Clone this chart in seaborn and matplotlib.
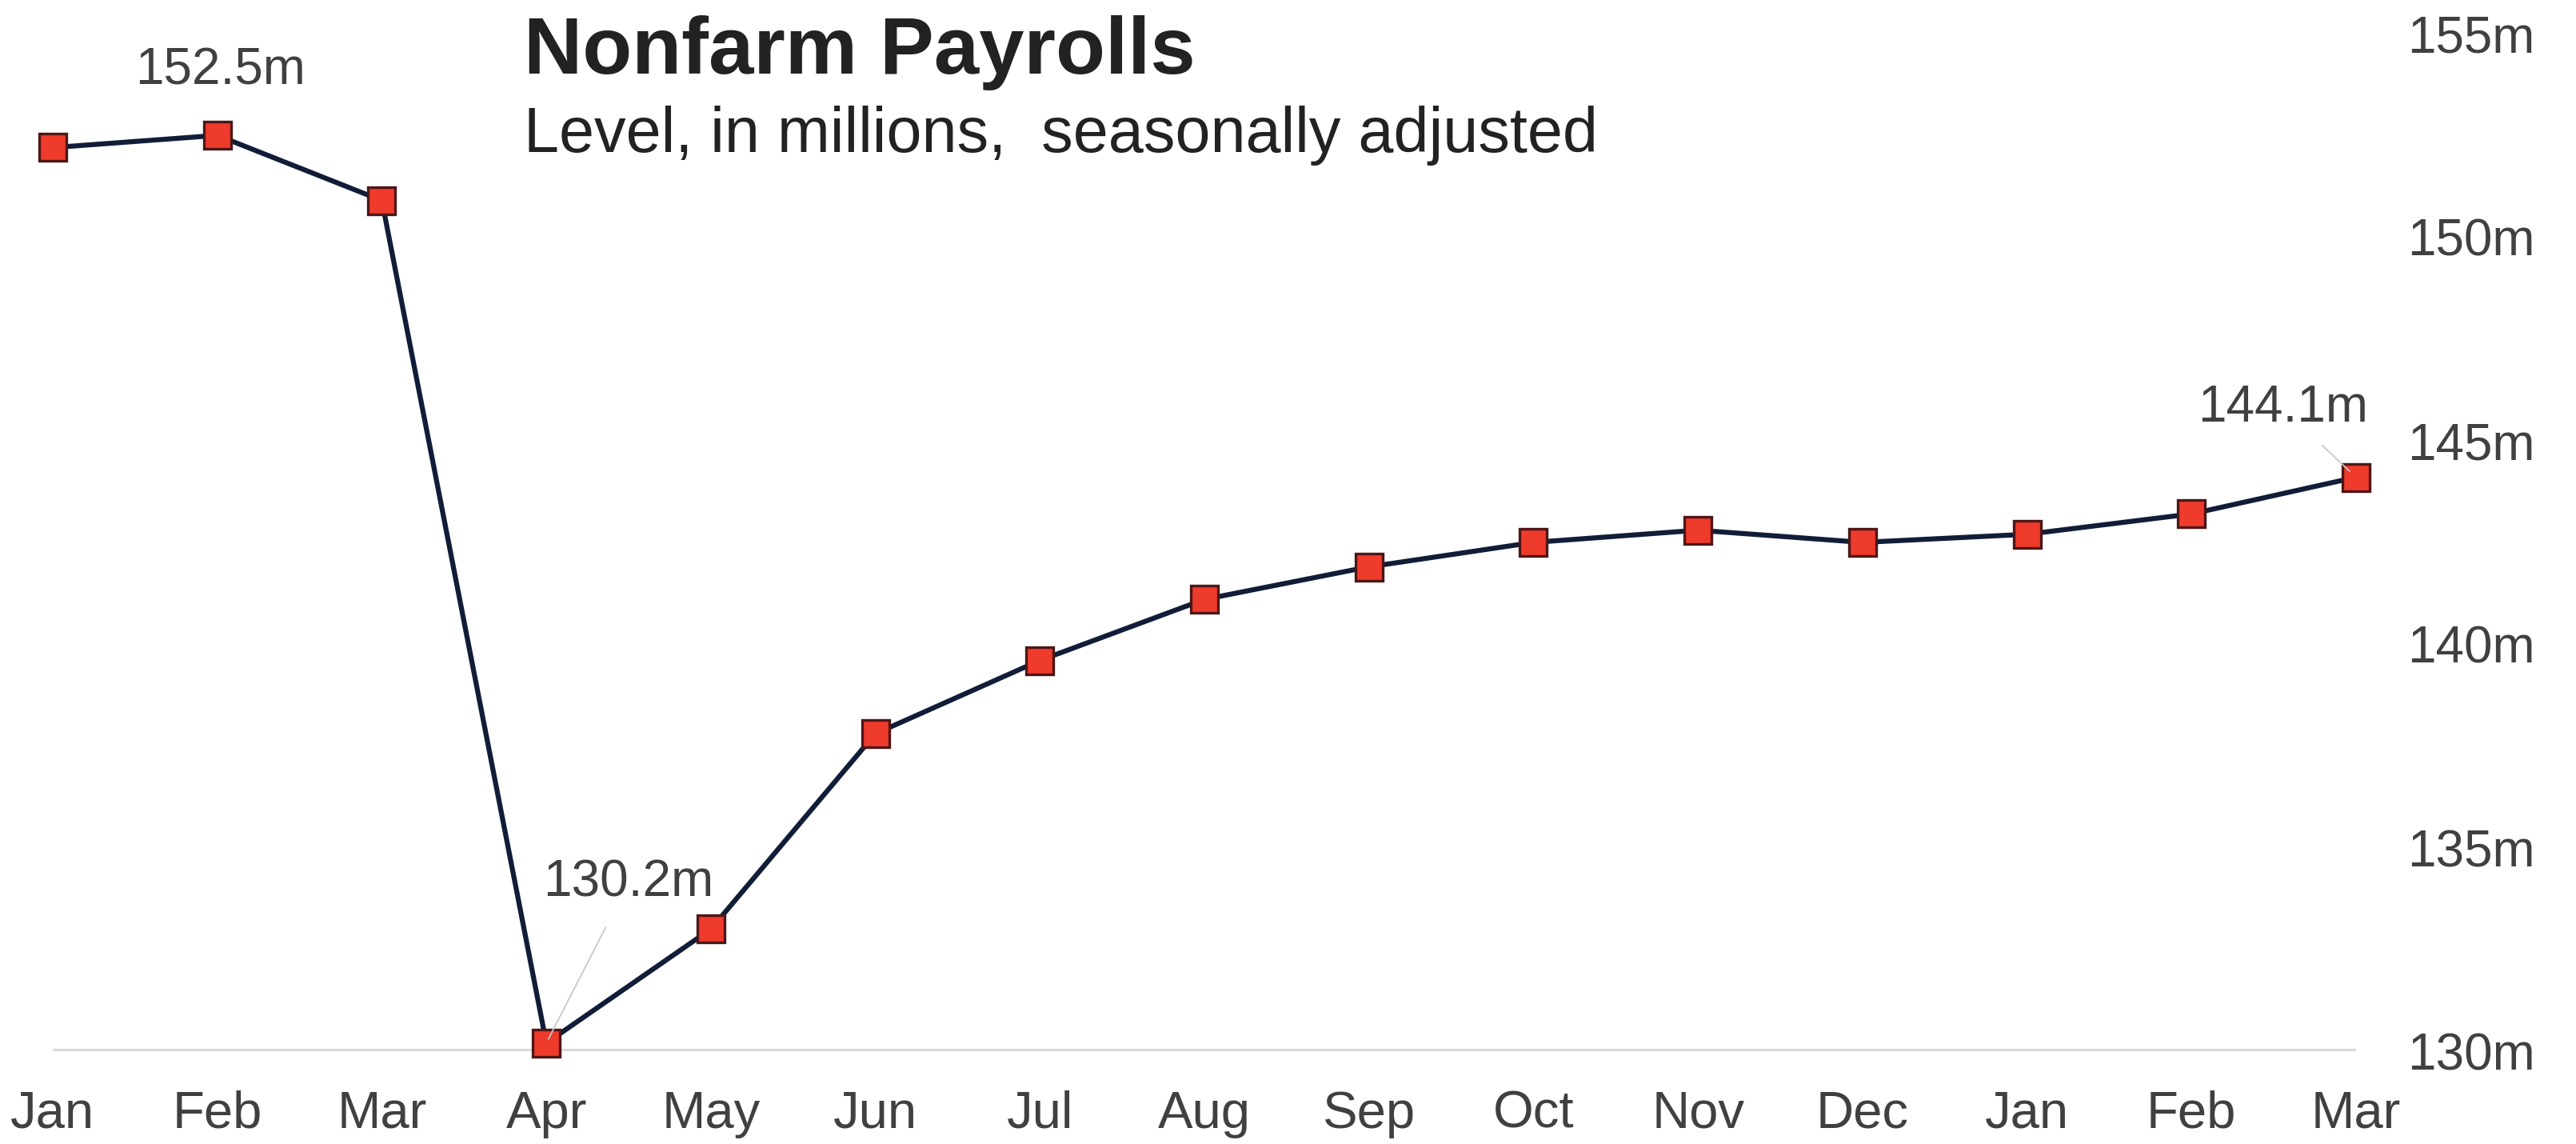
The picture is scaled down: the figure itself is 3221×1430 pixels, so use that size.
import matplotlib
matplotlib.use("Agg")
import matplotlib.pyplot as plt
import seaborn as sns
import pandas as pd

# --- data ---
months = ["Jan", "Feb", "Mar", "Apr", "May", "Jun", "Jul", "Aug",
          "Sep", "Oct", "Nov", "Dec", "Jan", "Feb", "Mar"]
payrolls = [152.2, 152.5, 150.9, 130.2, 133.0, 137.8, 139.6, 141.1,
            141.9, 142.5, 142.8, 142.5, 142.7, 143.2, 144.1]
y_ticks = [130, 135, 140, 145, 150, 155]

# points that get a value label
callouts = [1, 3, 14]

df = pd.DataFrame({"pos": range(len(months)), "level": payrolls})

sns.set_theme(style="white")
plt.rcParams["font.family"] = ["Liberation Sans", "DejaVu Sans"]

fig = plt.figure(figsize=(32.21, 14.30), dpi=100)
ax = fig.add_axes([66 / 3221, 1 - 1314 / 1430, 2880 / 3221, 1272 / 1430])

# baseline at 130m
ax.axhline(130, color="#d9d9d9", lw=4.5, zorder=1)

sns.lineplot(data=df, x="pos", y="level", ax=ax, color="#111d38", lw=4.5,
             marker="s", markersize=25, markerfacecolor="#ee3b2c",
             markeredgecolor="#4e1616", markeredgewidth=2.4, zorder=3,
             clip_on=False)

# value labels with thin grey leader lines
txt_kw = dict(fontsize=46, color="#404040", ha="center", va="baseline")
i = callouts[0]
ax.annotate(f"{payrolls[i]}m", (i, payrolls[i]), xytext=(3, 46),
            textcoords="offset points", **txt_kw)
i = callouts[1]
ax.annotate(f"{payrolls[i]}m", (i, payrolls[i]), xytext=(74, 132),
            textcoords="offset points",
            arrowprops=dict(arrowstyle="-", color="#c8c8c8", lw=1.3,
                            shrinkA=18, shrinkB=4), **txt_kw)
i = callouts[2]
ax.annotate(f"{payrolls[i]}m", (i, payrolls[i]), xytext=(-66, 50),
            textcoords="offset points",
            arrowprops=dict(arrowstyle="-", color="#c8c8c8", lw=1.3,
                            shrinkA=14, shrinkB=8), **txt_kw)

ax.set_xlim(0, len(months) - 1)
ax.set_ylim(130, 155)
ax.set_xticks(range(len(months)))
ax.set_xticklabels(months)
ax.set_yticks(y_ticks)
ax.set_yticklabels([f"{v}m" for v in y_ticks])
ax.yaxis.tick_right()
ax.tick_params(axis="x", length=0, pad=35, labelsize=47, labelcolor="#404040")
ax.tick_params(axis="y", length=0, pad=46, labelsize=46, labelcolor="#404040")
ax.set_xlabel("")
ax.set_ylabel("")
for s in ax.spines.values():
    s.set_visible(False)
ax.grid(False)

fig.text(655 / 3221, 1 - 92 / 1430, "Nonfarm Payrolls", fontsize=73,
         fontweight="bold", color="#222222", va="baseline")
fig.text(655 / 3221, 1 - 190 / 1430, "Level, in millions,  seasonally adjusted",
         fontsize=57, color="#222222", va="baseline")

fig.savefig("out.png", dpi=100)
